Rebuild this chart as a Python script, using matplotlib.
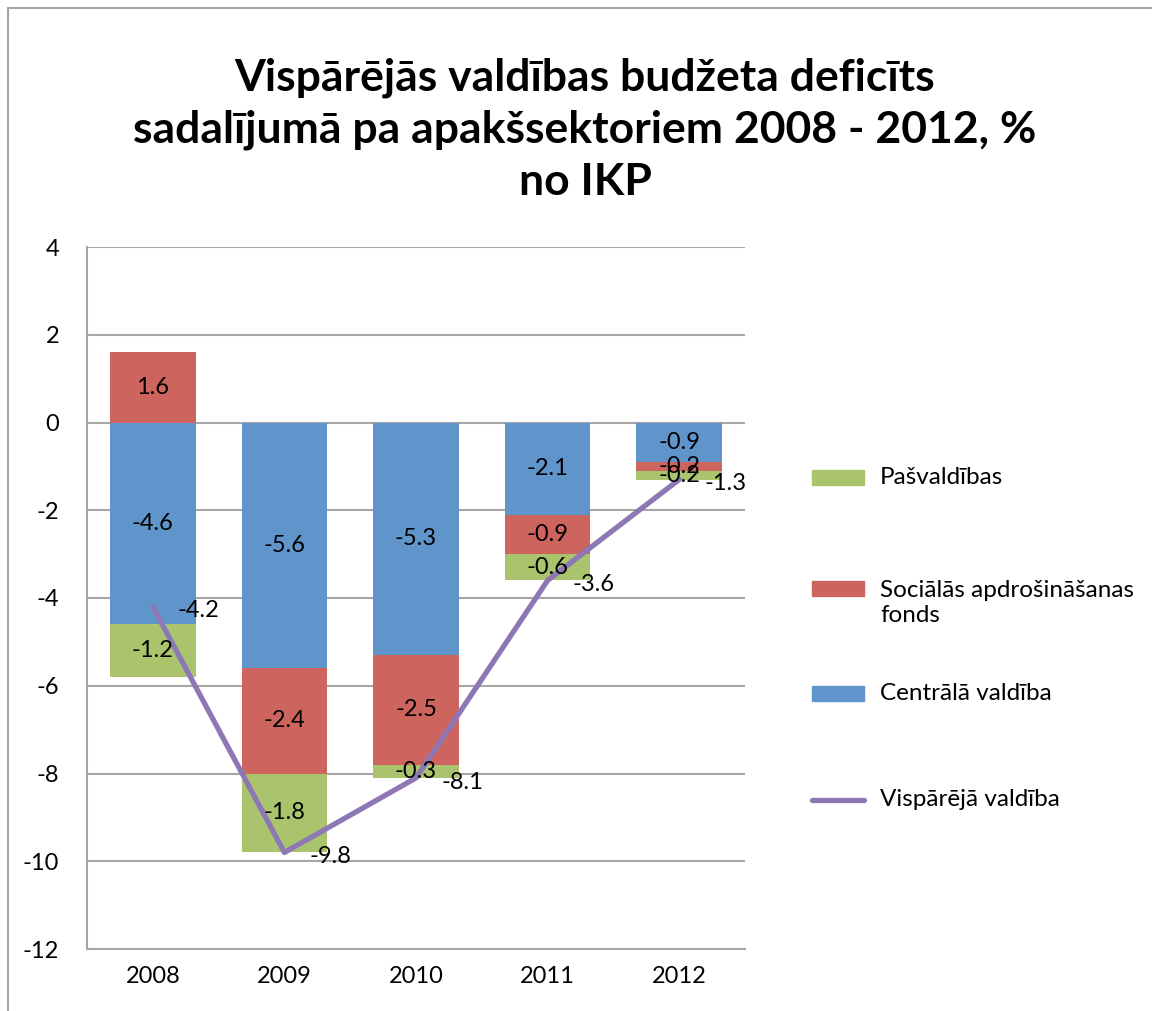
import matplotlib
matplotlib.use("Agg")
import matplotlib.pyplot as plt
from matplotlib.lines import Line2D
from matplotlib.patches import Rectangle
import numpy as np

plt.rcParams["font.family"] = ["Lato", "DejaVu Sans"]
plt.rcParams["axes.unicode_minus"] = False

years = ["2008", "2009", "2010", "2011", "2012"]
central = [-4.6, -5.6, -5.3, -2.1, -0.9]
social = [1.6, -2.4, -2.5, -0.9, -0.2]
municipal = [-1.2, -1.8, -0.3, -0.6, -0.2]
general = [-4.2, -9.8, -8.1, -3.6, -1.3]

C_GREEN = "#A9C46C"
C_RED = "#CD645E"
C_BLUE = "#5F95CB"
C_PURPLE = "#8E77B5"
C_GRID = "#A6A6A6"
FS = 17

W, H = 1152, 1011
fig = plt.figure(figsize=(W / 100, H / 100), dpi=100)
ax = fig.add_axes([87 / W, 1 - 949 / H, (745 - 87) / W, (949 - 247) / H])

x = np.arange(len(years))
pos_bottom = np.zeros(len(years))
neg_bottom = np.zeros(len(years))
for vals, color in [(central, C_BLUE), (social, C_RED), (municipal, C_GREEN)]:
    vals = np.array(vals)
    bottom = np.where(vals >= 0, pos_bottom, neg_bottom)
    ax.bar(x, vals, width=0.65, bottom=bottom, color=color, zorder=2)
    for xi, b, v in zip(x, bottom, vals):
        ax.text(xi, b + v / 2, f"{v:.1f}", ha="center", va="center",
                fontsize=FS, zorder=5)
    pos_bottom = pos_bottom + np.where(vals >= 0, vals, 0)
    neg_bottom = neg_bottom + np.where(vals < 0, vals, 0)

ax.plot(x, general, color=C_PURPLE, lw=3.8, zorder=4, solid_capstyle="round")
for xi, v in zip(x, general):
    ax.annotate(f"{v:.1f}", (xi, v), textcoords="offset points", xytext=(18, -3),
                ha="left", va="center", fontsize=FS, zorder=5)

ax.set_ylim(-12, 4)
ax.set_xlim(-0.5, len(years) - 0.5)
ax.set_yticks(range(-12, 5, 2))
ax.set_xticks(x)
ax.set_xticklabels(years)
ax.tick_params(axis="both", length=0, labelsize=FS)
ax.tick_params(axis="y", pad=20)
ax.tick_params(axis="x", pad=12)
ax.yaxis.grid(True, color=C_GRID, lw=1.5, zorder=0)
ax.set_axisbelow(True)
for side in ("top", "right"):
    ax.spines[side].set_visible(False)
for side in ("left", "bottom"):
    ax.spines[side].set_color(C_GRID)
    ax.spines[side].set_linewidth(1.5)

fig.text(585 / W, 1 - 130 / H,
         "Vispārējās valdības budžeta deficīts\nsadalījumā pa apakšsektoriem 2008 - 2012, %\nno IKP",
         ha="center", va="center", fontsize=32, fontweight="bold", linespacing=1.35)

# legend, placed by hand like the Excel original
legend_items = [
    ("patch", C_GREEN, "Pašvaldības", 477),
    ("patch", C_RED, "Sociālās apdrošināšanas\nfonds", 603),
    ("patch", C_BLUE, "Centrālā valdība", 693),
    ("line", C_PURPLE, "Vispārējā valdība", 800),
]
for kind, color, label, ypix in legend_items:
    yf = 1 - ypix / H
    if kind == "patch":
        top_line = 588 if "\n" in label else ypix
        yf_sw = 1 - top_line / H
        fig.add_artist(Rectangle((812 / W, yf_sw - 7.5 / H), 52 / W, 15 / H,
                                 transform=fig.transFigure, color=color))
    else:
        fig.add_artist(Line2D([812 / W, 864 / W], [yf, yf], transform=fig.transFigure,
                              color=color, lw=3.8, solid_capstyle="round"))
    fig.text(880 / W, yf, label, ha="left", va="center", fontsize=17.5, linespacing=1.25)

# outer chart frame (left and top edges visible)
fig.add_artist(Line2D([8 / W, 8 / W], [0, 1 - 8 / H], transform=fig.transFigure,
                      color=C_GRID, lw=1.5))
fig.add_artist(Line2D([8 / W, 1], [1 - 8 / H, 1 - 8 / H], transform=fig.transFigure,
                      color=C_GRID, lw=1.5))

fig.savefig("out.png", dpi=100)
